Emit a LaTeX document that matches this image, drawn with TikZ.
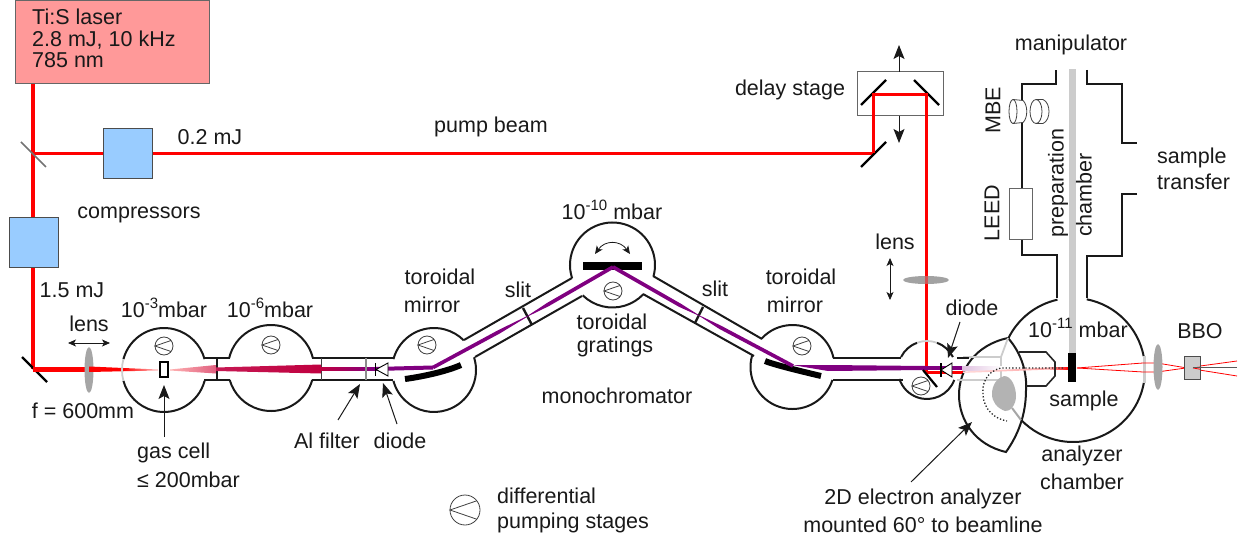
\documentclass[tikz,border=0pt]{standalone}
\usepackage{fontspec}
\setmainfont{Liberation Sans}
\usetikzlibrary{arrows.meta,calc}
\definecolor{laserfill}{HTML}{FF9999}
\definecolor{compfill}{HTML}{99CCFF}
\definecolor{edgegray}{HTML}{666666}
\definecolor{beampurple}{HTML}{800080}
\definecolor{beamcrim}{HTML}{C00040}
\definecolor{wedgepink}{HTML}{E06080}
\definecolor{lensgray}{HTML}{A6A6A6}
\definecolor{lightgray2}{HTML}{CCCCCC}
\newcommand{\supr}[1]{\raisebox{0.45em}{\fontsize{15}{15}\selectfont #1}}
\newcommand{\pumpsym}[3]{%
  \draw[pumpln] (#1,#2) circle[radius=#3];
  \draw[pumpln] ($(#1,#2)+(-38:#3)$) -- ($(#1,#2)+(180:#3)$) -- ($(#1,#2)+(38:#3)$);}
\newcommand{\chamberarc}[5]{\draw[wall] ($(#1,#2)+(#4:#3)$) arc[start angle=#4,end angle=#5,radius=#3];}
\newcommand{\graychamberarc}[5]{\draw[graywall] ($(#1,#2)+(#4:#3)$) arc[start angle=#4,end angle=#5,radius=#3];}
\tikzset{
  x=1pt,y=-1pt,
  txt/.style={font=\fontsize{21.5}{25}\selectfont,inner sep=0pt,text=black!90},
  wall/.style={draw=black!90,line width=2pt},
  thinwall/.style={draw=black!85,line width=1.6pt},
  graywall/.style={draw=lightgray2,line width=1.8pt},
  pumpln/.style={draw=black!75,line width=0.8pt},
  mirrorln/.style={draw=black,line width=2.2pt},
  barln/.style={draw=black,line width=6pt},
  redbeam/.style={draw=red,line width=3pt},
  redthin/.style={draw=red,line width=0.8pt},
  arr/.style={draw=black!90,line width=1pt,-{Stealth[length=14pt,width=11pt,inset=3pt]}},
  dblarr/.style={draw=black!90,line width=0.8pt,{Stealth[length=8pt,width=7pt,inset=2pt]}-{Stealth[length=8pt,width=7pt,inset=2pt]}},
  box/.style={draw=edgegray,line width=1pt},
  lensfill/.style={fill=lensgray,draw=none},
}
\begin{document}
\begin{tikzpicture}
\useasboundingbox (0,0) rectangle (1245,540);
% laser and top beams
\draw[redbeam,line width=4pt] (33,84) -- (33,369);
\draw[redbeam] (33,153.5) -- (873,153.5) -- (873,95) -- (926.5,95) -- (926.5,372) -- (963,372);
\draw[box,fill=laserfill] (15,1) rectangle (209,84);
\node[txt,align=left,anchor=west,font=\fontsize{21.5}{21.7}\selectfont] (laser) at (32,38.5) {Ti:S laser\\2.8 mJ, 10 kHz\\785 nm};
\draw[draw=black!55,line width=1.5pt] (21,142) -- (46,167);
\draw[box,draw=black!70,fill=compfill] (103,129) rectangle (152,179);
\draw[box,draw=black!70,fill=compfill] (9,218) rectangle (58,267);
\node[txt] (lcomp) at (139,215) {compressors};
\node[txt] (l02) at (210,137) {0.2 mJ};
\node[txt] (l15) at (72,290) {1.5 mJ};
\node[txt] (lpump) at (491,127) {pump beam};
% first leg
\draw[mirrorln] (22,357) -- (47,382);
\draw[redbeam,line width=5pt] (33,369) -- (89,369);
\fill[lensfill] (89,370) ellipse[x radius=4.5,y radius=23];
\shade[left color=red,right color=red!25,middle color=red] (89,366.5) -- (158,369.5) -- (158,370.5) -- (89,372) -- cycle;
\draw[dblarr] (68,343) -- (110,343);
\node[txt] (llens) at (89,324) {lens};
\node[txt] (lf) at (83,411) {f = 600mm};
% chamber 1
\chamberarc{164}{370}{42}{15}{165}
\chamberarc{164}{370}{42}{195}{345}
\graychamberarc{164}{370}{42}{165}{195}
\pumpsym{164}{346}{9}
% chamber 2
\chamberarc{271}{368}{43}{16.2}{163.8}
\chamberarc{271}{368}{43}{193.4}{346.6}
\pumpsym{271}{345}{9}
% necks
\draw[wall] (204,358) -- (230,358) (204,380) -- (230,380) (216.5,358) -- (216.5,380);
\draw[wall] (312,358) -- (393,358);
\draw[wall] (312,380) -- (393,380);
\draw[wall,line width=1.4pt,draw=black!75] (321.5,358) -- (321.5,380);
% beams chamber 1-3
\shade[left color=red!30,right color=wedgepink] (170,369.5) -- (216,365) -- (216,373.5) -- (170,370.5) -- cycle;
\shade[left color=beamcrim!90,right color=beamcrim] (216,367.5) -- (321,364.5) -- (321,373.5) -- (216,371) -- cycle;
\shade[left color=beamcrim,right color=beampurple] (321,367.5) rectangle (375,370.8);
\draw[draw=beampurple,line width=4pt] (375,369) -- (433,367.5);
\draw[draw=black!45,line width=1.4pt] (366,358) -- (366,380);
\draw[draw=black,fill=white,line width=0.9pt] (388,363) -- (376,369.5) -- (388,376) -- cycle;
\draw[draw=black,line width=1.2pt] (375.5,363) -- (375.5,376);
% gas cell
\draw[draw=black,line width=1.2pt,fill=white] (160,362) rectangle (168,377);
\draw[arr] (164,437) -- (164,385);
\node[txt,anchor=west] (lgas) at (137,453) {gas cell};
\node[txt,anchor=west] (lgas2) at (137,480) {≤ 200mbar};
\node[txt] (l3) at (164,308) {10\supr{-3}mbar};
\node[txt] (l6) at (270,308) {10\supr{-6}mbar};
\node[txt] (lal) at (327,441) {Al filter};
\node[txt] (ld1) at (400,441) {diode};
\draw[arr] (338,420) -- (360,384);
\draw[arr] (397,424) -- (383,383);
% chamber 3
\chamberarc{434}{370}{42}{195}{315}
\chamberarc{434}{370}{42}{-17.6}{165}
\pumpsym{427}{345}{9}
\draw[barln] (405,379) .. controls (420,377) and (445,372) .. (461,365);
\draw[wall] (464,340) -- (572,278);
\draw[wall] (475,357) -- (582,296);
\draw[wall,line width=2.4pt] (523,308) -- (532,325);
\node[txt] (lt1) at (440,277) {toroidal};
\node[txt] (lm1) at (432,305) {mirror};
\node[txt] (ls1) at (518,290) {slit};
% chamber grating
\chamberarc{612.5}{265}{42.5}{162}{375}
\chamberarc{612.5}{265}{42.5}{43.5}{134.5}
\draw[barln,line width=7.5pt] (583,266) -- (642,266);
\pumpsym{613}{291}{9}
\draw[dblarr] (595,254) .. controls (605,240) and (620,240) .. (630,254);
\node[txt] (l10) at (612,210) {10\supr{-10} mbar};
\node[txt] (ltg) at (612,322) {toroidal};
\node[txt] (lgr) at (615,347) {gratings};
\node[txt] (lmono) at (617,396) {monochromator};
% slit right
\draw[wall] (653,276) -- (762,339);
\draw[wall] (643,294) -- (754,356);
\draw[wall,line width=2.4pt] (703,307) -- (695,323);
\node[txt] (ls2) at (715,289) {slit};
% chamber 4
\chamberarc{792.5}{367}{42}{222.6}{347.6}
\chamberarc{792.5}{367}{42}{18}{196}
\pumpsym{802}{346}{9}
\draw[barln] (765,361) .. controls (775,365) and (800,371) .. (821,376);
\node[txt] (lt2) at (801,277) {toroidal};
\node[txt] (lm2) at (795,305) {mirror};
\draw[wall] (833,358) -- (901,358);
\draw[wall] (833,380) -- (903,380);
% beams monochromator
\fill[beampurple] (432.1,365.9) -- (498.1,330.2) -- (526.8,316.2) -- (527.2,316.8) -- (499.9,333.4) -- (433.9,369.1) -- cycle;
\fill[beampurple] (527,316.2) -- (547.1,302.9) -- (612.1,265.4) -- (613.9,268.6) -- (548.9,306.1) -- (527,316.8) -- cycle;
\fill[beampurple] (613.9,265.4) -- (680.9,303.7) -- (699,315.2) -- (699,315.8) -- (679.1,306.9) -- (612.1,268.6) -- cycle;
\fill[beampurple] (699,315.2) -- (720.9,325.6) -- (793.9,364.4) -- (792.1,367.6) -- (719.1,328.8) -- (699,315.8) -- cycle;
\fill[beampurple] (792,365) -- (828,365) -- (925,366) -- (925,370) -- (828,371) -- cycle;
% small chamber
\chamberarc{927}{370}{29}{206.6}{250}
\chamberarc{927}{370}{29}{290}{333.4}
\graychamberarc{927}{370}{29}{250}{290}
\chamberarc{927}{370}{29}{20}{162}
\pumpsym{921}{386}{9}
\draw[mirrorln] (923,370) -- (937,387);
% analyzer chamber & preparation
\draw[wall] (1022,240) -- (1022,84) -- (1056,84) -- (1056,70);
\draw[wall] (1087,70) -- (1087,84) -- (1122,84) -- (1122,143) -- (1137,143);
\draw[wall] (1137,194) -- (1122,194) -- (1122,256) -- (1087,256) -- (1087,298);
\draw[wall] (1022,240) -- (1022,255) -- (1057,255) -- (1057,298);
\chamberarc{1073}{370}{72}{206}{257.5}
\chamberarc{1073}{370}{72}{281}{349}
\chamberarc{1073}{370}{72}{10}{136}
\draw[graywall,line width=3.5pt] (1144.5,356) -- (1144.5,383);
% manipulator
\fill[lightgray2] (1068.5,69) rectangle (1076,353);
\fill[black] (1068,353) rectangle (1076,382);
% MBE, LEED
\fill[white] (1013,100) rectangle (1026,123);
\draw[draw=black!75,line width=0.8pt] (1013,111.5) ellipse[x radius=4,y radius=12];
\draw[draw=black!75,line width=0.8pt] (1013,99.5) -- (1023,100.5) .. controls (1028,105) and (1028,118) .. (1023,122.5) -- (1013,123.5);
\draw[draw=black!75,line width=0.8pt] (1036,111.5) ellipse[x radius=6,y radius=12];
\draw[draw=black!75,line width=0.8pt] (1036,99.5) -- (1043,99.5) .. controls (1051,103) and (1051,120) .. (1043,123.5) -- (1036,123.5);
\draw[draw=black!60,line width=1pt,fill=white] (1009,189) rectangle (1032,240);
\node[txt,rotate=90] (lmbe) at (993,110) {MBE};
\node[txt,rotate=90] (lleed) at (992,213) {LEED};
\node[txt,rotate=90] (lprep) at (1058,183) {preparation};
\node[txt,rotate=90] (lchamb) at (1084,195) {chamber};
\node[txt] (lman) at (1071,45) {manipulator};
\node[txt,anchor=west] (lst1) at (1157,158) {sample};
\node[txt,anchor=west] (lst2) at (1157,182) {transfer};
% delay stage
\draw[box,draw=black!60] (857,72) rectangle (943,116);
\draw[mirrorln] (861,105) -- (886,80);
\draw[mirrorln] (914,80) -- (939,105);
\draw[mirrorln] (861,167) -- (886,142);
\draw[redbeam] (873,153.5) -- (873,95) -- (926.5,95) -- (926.5,130);
\draw[arr] (899,72) -- (899,45);
\draw[arr] (899,116) -- (899,143);
\node[txt] (ldelay) at (790,90) {delay stage};
% lens 2
\fill[lensfill,fill=lensgray!60!black!60] (926,280) ellipse[x radius=23,y radius=4];
\draw[redbeam] (926.5,270) -- (926.5,276);
\draw[redbeam] (926.5,284) -- (926.5,290);
\draw[draw=red!50!lensgray,line width=3pt] (926.5,276) -- (926.5,284);
\draw[dblarr] (890,258) -- (890,300);
\node[txt] (llens2) at (895,242) {lens};
% analyzer leaf
\draw[wall,fill=white] (1008,338) .. controls (975,345) and (959,370) .. (959,395) .. controls (959,420) and (975,445) .. (1006,452) .. controls (1018,435) and (1026,415) .. (1026,390) .. controls (1027,375) and (1023,355) .. (1008,338) -- cycle;
\draw[graywall] (963,357) -- (1001,357) -- (1008,338);
\draw[graywall] (1001,357) -- (1001,380);
\draw[graywall] (957,380) -- (1001,380);
\draw[wall] (957,358) -- (969,358);
% beams through analyzer
\fill[beampurple] (925,366) rectangle (962,370);
\shade[left color=beampurple!25,right color=white] (962,366) rectangle (1002,370);
\draw[red,line width=2pt] (927,372) -- (963,372);
\shade[left color=red!14,right color=red!35] (963,371.5) -- (1050,367.5) -- (1050,369.5) -- (963,373) -- cycle;
\shade[left color=red!35,right color=red] (1050,367.5) rectangle (1068,369.5);
\draw[draw=black,fill=white,line width=0.9pt] (952,363) -- (941,370) -- (952,377) -- cycle;
\draw[draw=black,line width=1.2pt] (941,363) -- (941,377);
% nose
\draw[thinwall] (1019,352) -- (1046,352) -- (1055,362) -- (1055,376) -- (1046,386) -- (1026,386);
\fill[black] (1068,353) rectangle (1076,382);
% analyzer inner
\fill[lensgray!85] (1004,376) .. controls (1012,376) and (1016,388) .. (1016,396) .. controls (1016,405) and (1010,412) .. (1005,411) .. controls (997,408) and (992,402) .. (992,394) .. controls (992,385) and (997,378) .. (1004,376) -- cycle;
\draw[draw=lensgray,line width=2pt] (1012,408) -- (1021,420);
\draw[draw=black!85,line width=1.3pt,dotted] (1063,368) -- (1001,368) .. controls (985,372) and (982,385) .. (983,395) .. controls (984,410) and (995,419) .. (1007,421);
% right of sample
\draw[redthin] (1077,368) -- (1143,363) -- (1157,363) -- (1193,369) -- (1237,376);
\draw[redthin] (1077,368) -- (1143,372) -- (1157,372) -- (1193,367) -- (1237,361);
\fill[lensfill] (1158,367) ellipse[x radius=4.5,y radius=23];
\draw[draw=black!70,line width=1pt,fill=lightgray2] (1184,356) rectangle (1200,379);
\draw[redthin] (1193,368) -- (1200,369.2) (1193,368) -- (1200,367);
\draw[draw=black!65,line width=1pt] (1193,367) -- (1237,367);
% other labels
\node[txt,anchor=west] (l11) at (1028,328) {10\supr{-11}\hspace{6pt}mbar};
\node[txt] (lsample) at (1084,401) {sample};
\node[txt] (lan1) at (1082,456) {analyzer};
\node[txt] (lan2) at (1082,482) {chamber};
\node[txt] (lbbo) at (1200,331) {BBO};
\node[txt] (ld2) at (972,308) {diode};
\draw[arr] (960,322) -- (948,358);
\node[txt] (le1) at (923,499) {2D electron analyzer};
\node[txt] (le2) at (923,525) {mounted 60° to beamline};
\draw[arr] (911,482) -- (972,422);
\pumpsym{465}{510}{15}
\node[txt,anchor=west] (lp1) at (497,496) {differential};
\node[txt,anchor=west] (lp2) at (497,523) {pumping stages};
\end{tikzpicture}
\end{document}
